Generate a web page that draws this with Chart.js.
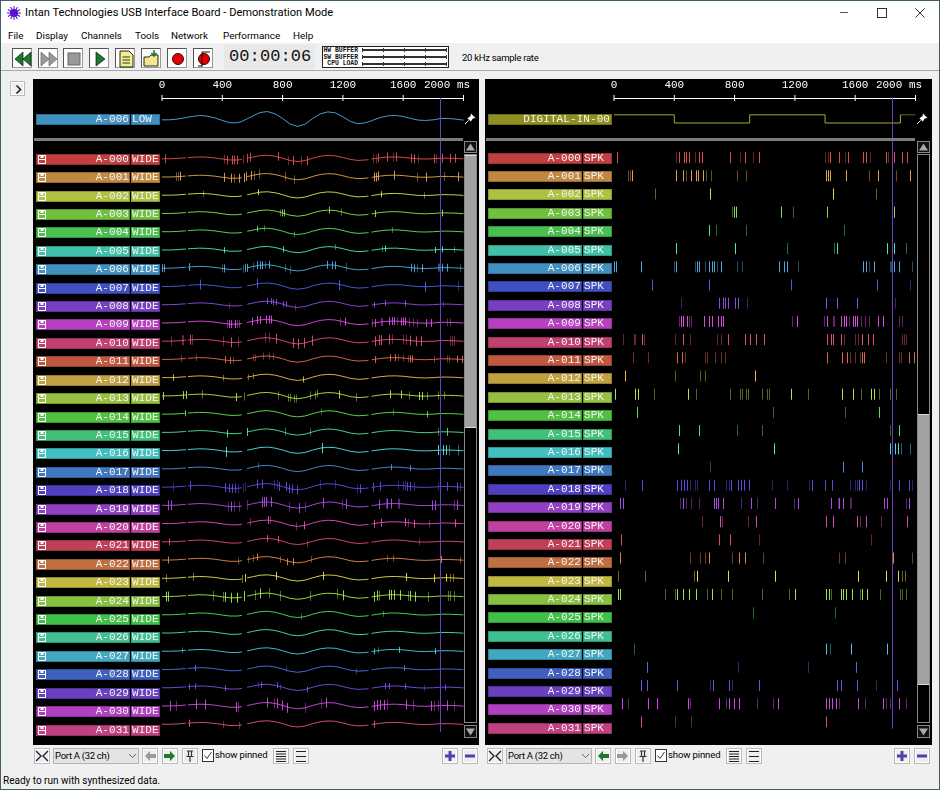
<!DOCTYPE html>
<html>
<head>
<meta charset="utf-8">
<title>Intan Technologies USB Interface Board</title>
<script src="https://cdn.jsdelivr.net/npm/chart.js@4/dist/chart.umd.min.js"></script>
<style>
  html, body { margin: 0; padding: 0; background: #f0f0f0; }
  #app { position: relative; width: 940px; height: 790px; overflow: hidden; background: #f0f0f0;
         font-family: Roboto, sans-serif; font-size: 11px; color: #000; }
  #app div, #app span, #app svg, #app canvas { position: absolute; }
  .mono { font-family: "Liberation Mono", monospace; font-size: 11px; line-height: 11.5px; letter-spacing: 0.07px; color: #f4f4f4; white-space: pre; }
  .ui { white-space: nowrap; line-height: 14px; }
  .btn { background: #fff; border: 1px solid #555; border-right-color: #999; border-bottom-color: #999; box-sizing: border-box; }
  .sbtn { background: #eee; border: 1px solid #bbb; box-sizing: border-box; box-shadow: inset 0 0 0 1px #fff; }
</style>
</head>
<body>
<div id="app"></div>
<script>
// --- Data ---
const channelNames = ["A-000","A-001","A-002","A-003","A-004","A-005","A-006","A-007","A-008","A-009","A-010","A-011","A-012","A-013","A-014","A-015",
  "A-016","A-017","A-018","A-019","A-020","A-021","A-022","A-023","A-024","A-025","A-026","A-027","A-028","A-029","A-030","A-031"];
const labelColors = ["#c04040","#c08840","#b0c040","#70c040","#48c050","#40c0a8","#4090c0","#4050c0","#7840c0","#b840c0","#c04070","#c05840",
  "#c0a040","#98c040","#50c040","#40c078","#40c0c0","#4078c0","#5040c0","#9040c0","#c040a0","#c04058","#c07040","#c0b840",
  "#88c040","#40c048","#40c090","#40a8c0","#4060c0","#6840c0","#b040c0","#c04080"];
const tickLabels = [0, 400, 800, 1200, 1600, 2000];
const cursorTime = 1847;

// slow wave shared by all the wideband traces (null = break in the trace)
const waveTimes = [0,50,100,150,160,166,172,200,250,300,350,400,450,500,530,548,565,600,650,700,750,800,850,900,950,1000,1050,1100,1150,1200,1250,1300,1350,1370,1380,1390,1400,1450,1500,1550,1600,1650,1700,1750,1800,1850,1900,1950,2000];
const waveValues = [0,0,2,6,7,null,8,10,13,11,6,-2,-9,-9,-5,null,3,11,22,25,18,4,-13,-20,-13,4,18,24,21,9,-5,-12,-9,-6,null,-3,-1,7,12,13,10,4,-1,-2,0,4,4,2,-1];
const digitalTimes = [0,400,900,1400,1900,2000];
const digitalValues = [1,0,1,0,1,1];

const spikeAmplitudes = [4.5,4.5,3,3.5,3,3,4,5,3,4,5,3.5,3,4,3,4,5,3,4.5,5,4,3.5,3.5,4,5,3,3,3,3,3,5,3.5];

// spike times in ms, one list per channel: clear ones and faint ones
const brightSpikes = [
  [22,433,469,480,500,566,586,774,869,964,1435,1499,1554,1654,1676,1809,1859,1915,1944],
  [126,416,460,511,546,559,593,1411,1424,1437,1543,1753,1966],
  [637,1455],
  [798,811,1112,1415,1859],
  [632],
  [416,805,1481,1813,1859],
  [2,16,181,416,555,566,632,652,666,716,1097,1130,1148,1654,1676,1725,1864,1893],
  [254,632,1176,1747],
  [699,725,741,758,805,825,1408,1481,1614],
  [447,464,486,599,635,654,694,710,725,1216,1415,1508,1530,1541,1588,1601,1614,1753,1787],
  [188,460,758,869,904,942,997,1415,1442,1455,1510,1647,1687,1720],
  [420,453,1415,1515,1550,1649,1665,1963,1992],
  [75,937],
  [9,142,161,495,1176,1515,1588,1707,1727],
  [155,1760],
  [433,566,1893],
  [427,1064,1831,1866,1886],
  [1521,1647],
  [188,420,447,467,486,632,666,778,825,847,865,898,1316,1402,1448,1627,1647,1897,1959],
  [42,62,460,668,681,692,725,909,1070,1223,1442,1499,1521,1793,1813,1959],
  [705,944,1408,1455,1616,1676,1950],
  [53,699,772],
  [42,632,831,871,1853],
  [553,758,1070,1621,1807,1886],
  [31,40,420,460,500,548,654,1203,1408,1428,1508,1521,1541,1581,1647,1680],
  [],
  [],
  [1408,1577,1813],
  [221,1610],
  [181,221,420,659,765,964,1481,1508,1614,1879],
  [55,228,287,493,699,765,798,831,1090,1408,1428,1448,1475,1621,1787,1893],
  [181,1408]
];
const faintSpikes = [
  [416,540,842,926,1400,1422,1537,1702,1820],
  [97,111,482,615,650,820,882,1698,1875],
  [276,1742],
  [783,1192],
  [677,882,1532],
  [1154,1466,1941],
  [402,540,608,688,820,854,1225,1698,1831,1844,1977],
  [1970],
  [449,887,1868],
  [433,504,517,1181,1397,1455,1466,1563,1641,1667,1698,1897,1913],
  [66,135,142,201,411,509,688,710,1530,1599,1621,1915,1930,1941],
  [128,232,475,604,619,672,710,738,1566,1599,1636,1809,1893,1906],
  [405,575,610],
  [270,544,776,842,854,876,889,982,1017,1030,1287,1643,1764,1831,1875],
  [1059,1537],
  [816,988,1831],
  [1910,1970],
  [637],
  [75,509,540,553,745,765,1053,1148,1298,1570,1601,1614,1674,1831,1979],
  [442,478,515,570,849,955,1196,1488,1566,1577,1941],
  [584,721,889,1632,1776],
  [962,1705],
  [509,575,606,783,995,1499,1537,1977],
  [31,210,533,1915,1935],
  [343,405,617,716,783,982,1165,1442,1632,1771,1901,1915,1941],
  [926,1470],
  [],
  [133,1433],
  [823,1293],
  [641,783,1738],
  [95,506,743,955,1059,1499,1667,1809,1831,1941],
  [405,511]
];

// --- Helpers ---
const app = document.getElementById("app");

function box(x, y, w, h, css, html, cls) {
  const d = document.createElement("div");
  d.style.cssText = `left:${x}px;top:${y}px;width:${w}px;height:${h}px;${css || ""}`;
  if (html) d.innerHTML = html;
  if (cls) d.className = cls;
  app.appendChild(d);
  return d;
}

function uiText(x, y, text, size, css) {
  const d = document.createElement("div");
  d.className = "ui";
  d.textContent = text;
  d.style.cssText = `left:${x}px;top:${y}px;font-size:${size}px;${css || ""}`;
  app.appendChild(d);
}

function svg(w, h, body) {
  return `<svg width="${w}" height="${h}" viewBox="0 0 ${w} ${h}" style="left:0;top:0">${body}</svg>`;
}

function brighten(hex) {
  const n = parseInt(hex.slice(1), 16);
  const part = (v) => Math.min(255, Math.round(v * 1.33)).toString(16).padStart(2, "0");
  return "#" + part((n >> 16) & 255) + part((n >> 8) & 255) + part(n & 255);
}

// nearest sample of the slow wave, no in-between values
function waveAt(t) {
  let best = 0, bestDist = Infinity;
  waveTimes.forEach((wt, i) => {
    if (waveValues[i] !== null && Math.abs(wt - t) < bestDist) {
      bestDist = Math.abs(wt - t);
      best = waveValues[i];
    }
  });
  return best;
}

// keeps the raster ticks and the cursor on whole pixels
const snapPlugin = {
  id: "snapX",
  afterDatasetsUpdate(chart) {
    chart.data.datasets.forEach((ds, i) => {
      if (!ds.snapX) return;
      chart.getDatasetMeta(i).data.forEach((pt) => { pt.x = Math.floor(pt.x) + 0.5; });
    });
  }
};

function spikeDataset(points, color, radius) {
  return { data: points, showLine: false, snapX: true, pointStyle: "line", pointRotation: 90,
    pointRadius: radius, pointBorderWidth: 1, pointBorderColor: color, clip: false };
}

function cursorDataset(bottom) {
  return { data: [{ x: cursorTime, y: -3.33 }, { x: cursorTime, y: bottom }], snapX: true,
    borderColor: "#6a3fc8", borderWidth: 1, pointRadius: 0, clip: false };
}

function rulerDataset(y) {
  return { data: tickLabels.map((t) => ({ x: t, y: y })), showLine: false, pointStyle: "line",
    pointRotation: 90, pointRadius: 3, pointBorderWidth: 1, pointBorderColor: "#fff", clip: false };
}

function drawPanel(x, w, padRight, yMin, yMax, datasets) {
  const canvas = document.createElement("canvas");
  canvas.width = w;
  canvas.height = 666;
  canvas.style.cssText = `left:${x}px;top:79px;width:${w}px;height:666px`;
  app.appendChild(canvas);
  new Chart(canvas.getContext("2d"), {
    type: "line",
    data: { datasets: datasets },
    plugins: [snapPlugin],
    options: {
      responsive: false,
      animation: false,
      events: [],
      layout: { padding: { left: 129, right: padRight, top: 0, bottom: 0 } },
      plugins: { legend: { display: false }, tooltip: { enabled: false } },
      scales: {
        x: {
          type: "linear", position: "top", min: 0, max: 2000,
          afterBuildTicks(scale) { scale.ticks = tickLabels.map((v) => ({ value: v })); },
          afterFit(scale) { scale.height = 19; scale.paddingLeft = 0; scale.paddingRight = 0; },
          grid: { display: false, drawTicks: false },
          border: { display: true, color: "#fff", width: 1 },
          ticks: {
            color: "#fff", padding: 6, autoSkip: false, maxRotation: 0,
            font: { family: "Liberation Mono", size: 11 },
            // the unit hangs after the last number, the whole string stays centred on the tick
            callback: (v) => (v === 2000 ? "2000 ms\u00a0\u00a0\u00a0\u00a0\u00a0" : String(v))
          }
        },
        y: { display: false, reverse: true, min: yMin, max: yMax }
      }
    }
  });
}

// --- Window chrome ---
box(0, 0, 940, 43, "background:#fff");
box(0, 43, 940, 28, "background:#f0f0f0;border-bottom:1px solid #a8a8a8;box-sizing:border-box");
box(0, 0, 940, 1, "background:#3f5f66");
box(0, 0, 1, 790, "background:#3f5f66");
box(939, 0, 1, 790, "background:#3f5f66");
box(0, 789, 940, 1, "background:#3f5f66");

box(6, 5, 16, 16, "", svg(16, 16,
  `<g stroke="#5a10d0" stroke-width="1">` +
  [0, 30, 60, 90, 120, 150].map((a) => `<line x1="8" y1="1" x2="8" y2="15" transform="rotate(${a} 8 8)"/>`).join("") +
  `</g><circle cx="8" cy="8" r="4" fill="#5a10d0"/>`));
uiText(25, 6, "Intan Technologies USB Interface Board - Demonstration Mode", 11.1);
box(840, 12, 8, 1, "background:#555");
box(877, 8, 8, 8, "border:1px solid #333");
box(915, 8, 10, 10, "", svg(10, 10, `<path d="M0.5 0.5L9.5 9.5M9.5 0.5L0.5 9.5" stroke="#333" stroke-width="1" fill="none"/>`));

[["File", 8], ["Display", 36], ["Channels", 81], ["Tools", 135], ["Network", 171], ["Performance", 223], ["Help", 293]]
  .forEach(([t, x]) => uiText(x, 28.5, t, 9.9));

// toolbar buttons
const toolbarIcons = [
  [12, `<path d="M10 3L2 10L10 17ZM18 3L10 10L18 17Z" fill="#1c7a2c" stroke="#111" stroke-width="0.7"/>`],
  [38, `<path d="M2 3L10 10L2 17ZM10 3L18 10L10 17Z" fill="#999" stroke="#666" stroke-width="0.7"/>`],
  [63, `<rect x="4" y="4" width="12" height="12" fill="#999" stroke="#666"/>`],
  [89, `<path d="M6 3L15 10L6 17Z" fill="#1c7a2c" stroke="#111" stroke-width="0.7"/>`],
  [115, `<path d="M4 2H13L17 6V18H4Z" fill="#f4ee8c" stroke="#222"/><path d="M6.5 8H14M6.5 11H14M6.5 14H14" stroke="#333"/>`],
  [141, `<path d="M2 8H7L9 6H16V17H2Z" fill="#f4e88c" stroke="#222"/><path d="M12 1V6M9.5 4L12 7L14.5 4" stroke="#1c7a2c" stroke-width="1.6" fill="none"/>`],
  [167, `<circle cx="10" cy="10" r="5.5" fill="#e00000" stroke="#400"/>`],
  [193, `<circle cx="10" cy="10" r="5.5" fill="#e00000" stroke="#400"/><path d="M8 17V3H16M4 17H9" stroke="#111" fill="none"/>`]
];
toolbarIcons.forEach(([x, body]) => box(x, 48, 20, 20, "", svg(20, 20, body), "btn"));

// record timer
box(224, 45, 91, 24, "background:#e8e8e8;border-radius:1px");
box(229, 48, 84, 18, "font:17px/18px 'Liberation Mono',monospace;letter-spacing:0.1px;color:#111;white-space:pre", "00:00:06");

// buffer meters
box(322, 46, 127, 22, "background:#fff;border:1px solid #222;box-sizing:border-box");
[["HW BUFFER", 47, 50], ["SW BUFFER", 53.5, 57], ["CPU LOAD", 60, 64]].forEach(([t, y, ly]) => {
  box(323, y, 35, 7, "font:bold 6.4px/7px 'Liberation Mono',monospace;color:#111;text-align:right;white-space:pre", t);
  box(362, ly - 1, 84, 2, "background:#333");
  [0, 21, 42, 63, 84].forEach((o) => box(362 + o, ly - 2, 1, 4, "background:#333"));
});
uiText(462, 51, "20 kHz sample rate", 9.5, "letter-spacing:-0.28px");

// collapse button left of the panels
box(10, 81, 15, 15, "", svg(15, 15, `<path d="M5.5 3.5L9.5 7.5L5.5 11.5" stroke="#222" stroke-width="1.6" fill="none"/>`), "sbtn");

// --- Panels ---
box(33, 79, 446, 666, "background:#000");
box(485, 79, 447, 666, "background:#000");

const WAVE_GAIN_WIDE = 0.0076;
const WAVE_GAIN_LOW = 0.0181;

// left panel: wideband traces with their spikes
const leftSets = [cursorDataset(31.43)];
channelNames.forEach((name, ch) => {
  const color = brighten(labelColors[ch]);
  const onWave = (t) => ({ x: t, y: ch - waveAt(t) * WAVE_GAIN_WIDE });
  leftSets.push(spikeDataset(brightSpikes[ch].map(onWave), color + "d0", spikeAmplitudes[ch]));
  leftSets.push(spikeDataset(faintSpikes[ch].map(onWave), color + "70", spikeAmplitudes[ch]));
  leftSets.push({
    data: waveTimes.map((t, i) => ({ x: t, y: waveValues[i] === null ? null : ch - waveValues[i] * WAVE_GAIN_WIDE })),
    borderColor: color + "d0", borderWidth: 1, pointRadius: 0, spanGaps: false, clip: false
  });
});
const LOW_ROW = -2.135;
leftSets.push({
  data: waveTimes.map((t, i) => ({ x: t, y: waveValues[i] === null ? null : LOW_ROW - waveValues[i] * WAVE_GAIN_LOW })),
  borderColor: brighten(labelColors[6]) + "d0", borderWidth: 1, pointRadius: 0, spanGaps: true, clip: false
});
leftSets.push(rulerDataset(-3.33));
drawPanel(33, 446, 15.5, -3.33, 31.81, leftSets);

// right panel: spike raster
const rightSets = [cursorDataset(31.35)];
channelNames.forEach((name, ch) => {
  const color = brighten(labelColors[ch]);
  const onRow = (t) => ({ x: t, y: ch });
  rightSets.push(spikeDataset(brightSpikes[ch].map(onRow), color + "e0", 5.5));
  rightSets.push(spikeDataset(faintSpikes[ch].map(onRow), color + "68", 5.5));
});
const DIGITAL_ROW = -1.9;
const DIGITAL_STEP = 0.45;
rightSets.push({
  data: digitalTimes.map((t, i) => ({ x: t, y: DIGITAL_ROW - digitalValues[i] * DIGITAL_STEP })),
  stepped: "before", borderColor: "#a8a82c", borderWidth: 1, pointRadius: 0, clip: false,
  segment: { borderColor: (ctx) => (ctx.p0.parsed.y === ctx.p1.parsed.y && ctx.p0.parsed.y < DIGITAL_ROW - 0.1 ? "#66661c" : "#a8a82c") }
});
rightSets.push(rulerDataset(-3.273));
drawPanel(485, 447, 16.5, -3.273, 31.91, rightSets);

// dividers under the pinned rows
box(34, 138, 429, 3, "background:#7c7c7c");
box(486, 138, 429, 3, "background:#7c7c7c");

// channel name bars
function nameBar(x, y, w, color, text, align, extra) {
  const d = box(x, y, w, 11, `background:${color};box-shadow:inset 0 0 0 1px rgba(0,0,0,.22);box-sizing:border-box;text-align:${align};` + (extra || ""), "", "mono");
  d.textContent = text;
  return d;
}
const saveIcon = svg(8, 9, `<path d="M0.5 0.5H7.5V8.5H0.5Z" fill="none" stroke="#fff"/><path d="M1 4.5H7" stroke="#fff"/><path d="M2.5 1H5.5V3H2.5Z" fill="#fff"/>`);

channelNames.forEach((name, ch) => {
  const color = labelColors[ch];
  const ly = Math.round(153.8 + 18.41 * ch);
  nameBar(36, ly, 94, color, name, "right", "padding-right:1px");
  nameBar(131, ly, 29, color, "WIDE", "left", "padding-left:1px");
  box(38, ly + 1, 8, 9, "", saveIcon);
  const ry = Math.round(152.7 + 18.39 * ch);
  nameBar(488, ry, 94, color, name, "right", "padding-right:1px");
  nameBar(583, ry, 29, color, "SPK", "left", "padding-left:1px");
});
nameBar(36, 114, 94, labelColors[6], "A-006", "right", "padding-right:1px");
nameBar(131, 114, 29, labelColors[6], "LOW", "left", "padding-left:1px");
nameBar(488, 114, 124, "#8f8f20", "DIGITAL-IN-00", "right", "padding-right:2px");

const pinIcon = svg(12, 12, `<path d="M7 0.5L11.5 5L8.8 5.6L6.8 8.6L3.4 5.2L6.4 3.2Z" fill="#fff"/><path d="M4.6 7.4L1 11" stroke="#fff"/>`);
box(464, 113, 12, 12, "", pinIcon);
box(916, 113, 12, 12, "", pinIcon);

// scrollbars
function scrollBar(x, thumbTop, thumbBottom) {
  box(x, 141, 13, 12, "background:#111;border:1px solid #888;box-sizing:border-box", svg(11, 10, `<path d="M5.5 1.5L10 8.5H1Z" fill="#aaa"/>`));
  box(x, 154, 13, 569, "background:#000;border:1px solid #888;box-sizing:border-box");
  box(x + 1, thumbTop, 11, thumbBottom - thumbTop, "background:#a2a2a2;border-top:1px solid #ddd;border-bottom:1px solid #ddd;box-sizing:border-box");
  box(x, 725, 13, 13, "background:#111;border:1px solid #888;box-sizing:border-box", svg(11, 11, `<path d="M1 2.5H10L5.5 9.5Z" fill="#aaa"/>`));
}
scrollBar(464, 155, 428);
scrollBar(917, 414, 685);

// --- Controls under the panels ---
function portControls(x, leftActive, rightActive) {
  const green = "#1c7a2c", gray = "#999";
  const ctl = (dx, w, body) => box(x + dx, 748, w, 16, "", svg(w - 2, 14, body), "sbtn");
  ctl(0, 16, `<path d="M1 2L6 7L1 12M13 2L8 7L13 12" stroke="#223" stroke-width="1.4" fill="none"/>`);
  box(x + 19, 748, 86, 16, "background:#e4e4e4;border:1px solid #b4b4b4;box-sizing:border-box");
  uiText(x + 21, 749, "Port A (32 ch)", 9.5, "letter-spacing:-0.3px");
  box(x + 94, 751, 9, 9, "", svg(9, 9, `<path d="M1 3L4.5 6.5L8 3" stroke="#666" fill="none"/>`));
  ctl(108, 16, `<path d="M2 7L7 2V5H13V9H7V12Z" fill="${leftActive ? green : gray}"/>`);
  ctl(128, 16, `<path d="M12 7L7 2V5H1V9H7V12Z" fill="${rightActive ? green : gray}"/>`);
  ctl(148, 16, `<path d="M4 2H10M5.5 2V7M8.5 2V7M3.5 7.5H10.5M7 8V13" stroke="#333" stroke-width="1.2" fill="none"/>`);
  box(x + 168, 749, 12, 13, "background:#fff;border:1px solid #333;box-sizing:border-box", svg(10, 11, `<path d="M1.5 5.5L4 8.5L8.5 2" stroke="#333" fill="none"/>`));
  uiText(x + 181, 748, "show pinned", 9.6, "letter-spacing:-0.15px");
  ctl(239, 16, `<path d="M2 2.5H12M2 5H12M2 7.5H12M2 10H12M2 12.5H12" stroke="#222"/>`);
  ctl(259, 16, `<path d="M2 2.5H12M2 7.5H12M2 12.5H12" stroke="#222"/>`);
}
portControls(34, false, true);
portControls(487, true, false);

const zoomIn = `<path d="M2 7H12M7 2V12" stroke="#5040a8" stroke-width="3"/>`;
const zoomOut = `<path d="M2 7H12" stroke="#5040a8" stroke-width="3"/>`;
[[442, zoomIn], [462, zoomOut], [894, zoomIn], [914, zoomOut]].forEach(([x, body]) => box(x, 748, 16, 16, "", svg(14, 14, body), "sbtn"));

uiText(3, 774, "Ready to run with synthesized data.", 10);
</script>
</body>
</html>
